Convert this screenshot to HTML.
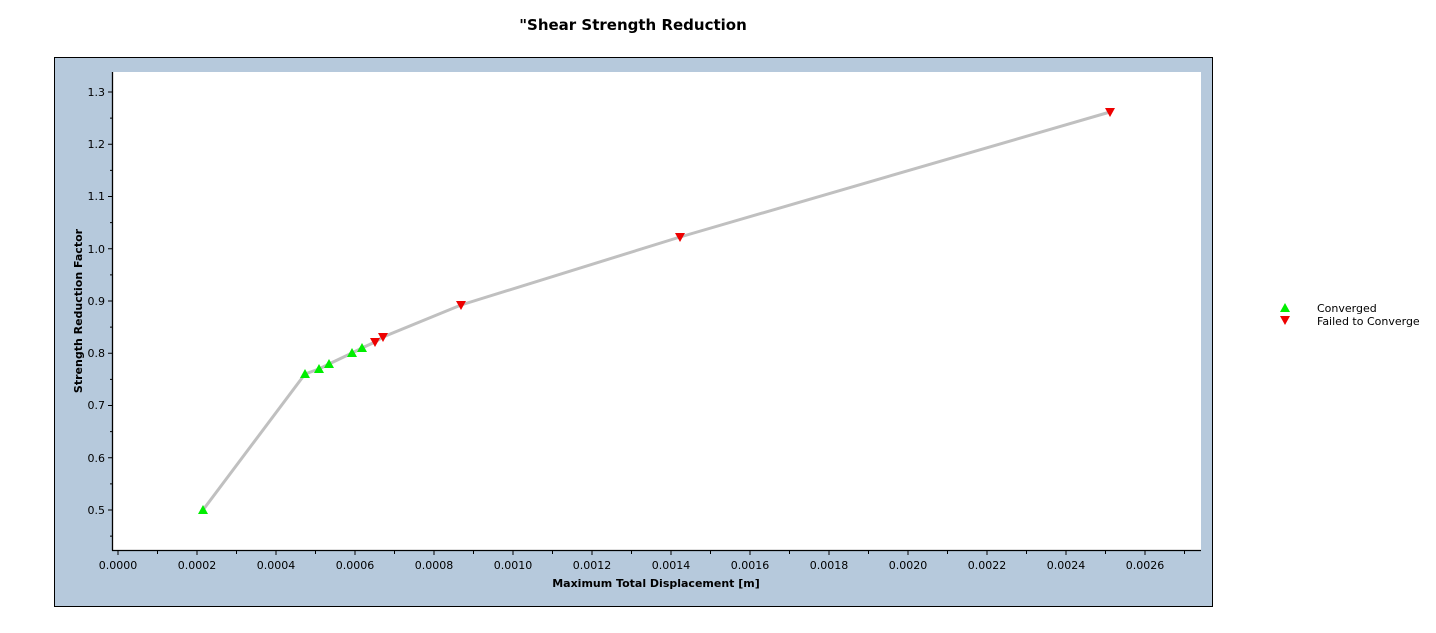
<!DOCTYPE html>
<html><head><style>body{margin:0;background:#fff;}svg{display:block;font-family:"DejaVu Sans","Liberation Sans",sans-serif;}</style></head>
<body>
<svg width="1436" height="633" viewBox="0 0 1436 633">
<text x="633" y="30" text-anchor="middle" font-size="15" font-weight="bold" fill="#000">"Shear Strength Reduction</text>
<rect x="54.5" y="57.5" width="1158" height="549" fill="#b6c9dc" stroke="#000" stroke-width="1"/>
<rect x="113" y="72" width="1088" height="478" fill="#fff"/>
<g stroke="#000" stroke-width="1.3">
<line x1="112.5" y1="72" x2="112.5" y2="550.5"/>
<line x1="112" y1="550.5" x2="1201" y2="550.5"/>
</g>
<g stroke="#000" stroke-width="1">
<path d="M108 92h5M108 144.25h5M108 196.5h5M108 248.75h5M108 301h5M108 353.25h5M108 405.5h5M108 457.75h5M108 510h5M110 118.1h3M110 170.4h3M110 222.6h3M110 274.9h3M110 327.1h3M110 379.4h3M110 431.6h3M110 483.9h3M110 536.1h3"/>
<path d="M118 551v4M157.5 551v3M197 551v4M236.5 551v3M276 551v4M315.5 551v3M355 551v4M394.5 551v3M434 551v4M473.5 551v3M513 551v4M552.5 551v3M592 551v4M631.5 551v3M671 551v4M710.5 551v3M750 551v4M789.5 551v3M829 551v4M868.5 551v3M908 551v4M947.5 551v3M987 551v4M1026.5 551v3M1066 551v4M1105.5 551v3M1145 551v4M1184.5 551v3"/>
</g>
<g font-size="11" fill="#000" text-anchor="end">
<text x="105" y="96">1.3</text><text x="105" y="148">1.2</text><text x="105" y="200">1.1</text><text x="105" y="253">1.0</text><text x="105" y="305">0.9</text><text x="105" y="357">0.8</text><text x="105" y="409">0.7</text><text x="105" y="462">0.6</text><text x="105" y="514">0.5</text>
</g>
<g font-size="11" fill="#000" text-anchor="middle">
<text x="118" y="569">0.0000</text><text x="197" y="569">0.0002</text><text x="276" y="569">0.0004</text><text x="355" y="569">0.0006</text><text x="434" y="569">0.0008</text><text x="513" y="569">0.0010</text><text x="592" y="569">0.0012</text><text x="671" y="569">0.0014</text><text x="750" y="569">0.0016</text><text x="829" y="569">0.0018</text><text x="908" y="569">0.0020</text><text x="987" y="569">0.0022</text><text x="1066" y="569">0.0024</text><text x="1145" y="569">0.0026</text>
</g>
<text x="656" y="587" text-anchor="middle" font-size="11" font-weight="bold">Maximum Total Displacement [m]</text>
<text transform="translate(82,311) rotate(-90)" text-anchor="middle" font-size="11" font-weight="bold">Strength Reduction Factor</text>
<polyline points="203,510 305,374 319,369 329,364 352,353 362,348 375,342 383,337 461,305 680,237 1110,112" fill="none" stroke="#c0c0c0" stroke-width="3"/>
<g fill="#00ee00">
<path d="M203 505l5 9h-10z"/><path d="M305 369l5 9h-10z"/><path d="M319 364l5 9h-10z"/><path d="M329 359l5 9h-10z"/><path d="M352 348l5 9h-10z"/><path d="M362 343l5 9h-10z"/>
<path d="M1285 303l5 9h-10z"/>
</g>
<g fill="#ee0000">
<path d="M375 347l5-9h-10z"/><path d="M383 342l5-9h-10z"/><path d="M461 310l5-9h-10z"/><path d="M680 242l5-9h-10z"/><path d="M1110 117l5-9h-10z"/>
<path d="M1285 325l5-9h-10z"/>
</g>
<g font-size="11" fill="#000">
<text x="1317" y="312">Converged</text><text x="1317" y="325">Failed to Converge</text>
</g>
</svg>
</body></html>
